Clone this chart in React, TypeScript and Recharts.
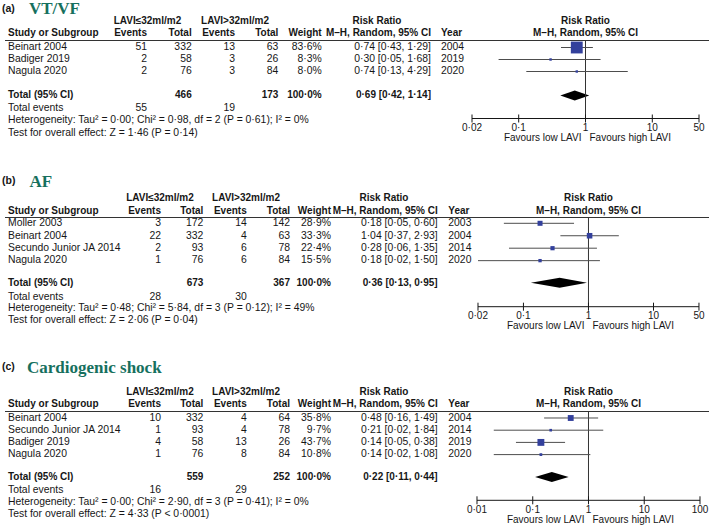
import React from 'react';
import { ComposedChart, Scatter, Line, Area, XAxis, YAxis, ReferenceLine } from 'recharts';

const W = 709;
const H = 526;
const FONT = '"Liberation Sans", Arial, sans-serif';
const SERIF = '"Liberation Serif", "DejaVu Serif", serif';
const INK = '#161616';
const TEAL = '#16705e';
const BOX = '#33409c';

// (a) VT/VF
const vtStudies = ['Beinart 2004', 'Badiger 2019', 'Nagula 2020'];
const vtEventsLow = [51, 2, 2];
const vtTotalLow = [332, 58, 76];
const vtEventsHigh = [13, 3, 3];
const vtTotalHigh = [63, 26, 84];
const vtWeight = [83.6, 8.3, 8.0];
const vtRR = [0.74, 0.3, 0.74];
const vtLow = [0.43, 0.05, 0.13];
const vtHigh = [1.29, 1.68, 4.29];
const vtYear = [2004, 2019, 2020];
const vtPooled = [0.69, 0.42, 1.14];
const vtSums = [466, 173];
const vtTotalEvents = [55, 19];
const vtTicks = [0.02, 0.1, 1, 10, 50];

// (b) AF
const afStudies = ['Moller 2003', 'Beinart 2004', 'Secundo Junior JA 2014', 'Nagula 2020'];
const afEventsLow = [3, 22, 2, 1];
const afTotalLow = [172, 332, 93, 76];
const afEventsHigh = [14, 4, 6, 6];
const afTotalHigh = [142, 63, 78, 84];
const afWeight = [28.9, 33.3, 22.4, 15.5];
const afRR = [0.18, 1.04, 0.28, 0.18];
const afLow = [0.05, 0.37, 0.06, 0.02];
const afHigh = [0.6, 2.93, 1.35, 1.5];
const afYear = [2003, 2004, 2014, 2020];
const afPooled = [0.36, 0.13, 0.95];
const afSums = [673, 367];
const afTotalEvents = [28, 30];
const afTicks = [0.02, 0.1, 1, 10, 50];

// (c) Cardiogenic shock
const csStudies = ['Beinart 2004', 'Secundo Junior JA 2014', 'Badiger 2019', 'Nagula 2020'];
const csEventsLow = [10, 1, 4, 1];
const csTotalLow = [332, 93, 58, 76];
const csEventsHigh = [4, 4, 13, 8];
const csTotalHigh = [64, 78, 26, 84];
const csWeight = [35.8, 9.7, 43.7, 10.8];
const csRR = [0.48, 0.21, 0.14, 0.14];
const csLow = [0.16, 0.02, 0.05, 0.02];
const csHigh = [1.49, 1.84, 0.38, 1.08];
const csYear = [2004, 2014, 2019, 2020];
const csPooled = [0.22, 0.11, 0.44];
const csSums = [559, 252];
const csTotalEvents = [16, 29];
const csTicks = [0.01, 0.1, 1, 10, 100];

const panels = [
  {
    tag: '(a)', title: 'VT/VF',
    studies: vtStudies, evLow: vtEventsLow, totLow: vtTotalLow, evHigh: vtEventsHigh, totHigh: vtTotalHigh,
    weight: vtWeight, rr: vtRR, lo: vtLow, hi: vtHigh, year: vtYear,
    pooled: vtPooled, sums: vtSums, events: vtTotalEvents, ticks: vtTicks,
    het: 'Heterogeneity: Tau² = 0·00; Chi² = 0·98, df = 2 (P = 0·61); I² = 0%',
    test: 'Test for overall effect: Z = 1·46 (P = 0·14)',
  },
  {
    tag: '(b)', title: 'AF',
    studies: afStudies, evLow: afEventsLow, totLow: afTotalLow, evHigh: afEventsHigh, totHigh: afTotalHigh,
    weight: afWeight, rr: afRR, lo: afLow, hi: afHigh, year: afYear,
    pooled: afPooled, sums: afSums, events: afTotalEvents, ticks: afTicks,
    het: 'Heterogeneity: Tau² = 0·48; Chi² = 5·84, df = 3 (P = 0·12); I² = 49%',
    test: 'Test for overall effect: Z = 2·06 (P = 0·04)',
  },
  {
    tag: '(c)', title: 'Cardiogenic shock',
    studies: csStudies, evLow: csEventsLow, totLow: csTotalLow, evHigh: csEventsHigh, totHigh: csTotalHigh,
    weight: csWeight, rr: csRR, lo: csLow, hi: csHigh, year: csYear,
    pooled: csPooled, sums: csSums, events: csTotalEvents, ticks: csTicks,
    het: 'Heterogeneity: Tau² = 0·00; Chi² = 2·90, df = 3 (P = 0·41); I² = 0%',
    test: 'Test for overall effect: Z = 4·33 (P < 0·0001)',
  },
];

// page positions of each panel (px)
const wideCols = { ev1: 161, tot1: 203.3, ev2: 246.7, tot2: 290, w: 331, rr: 437.7, year: 448.3, lavi1: 160, lavi2: 246, rrHead: 384 };
const layouts = [
  {
    titleY: 9.6, h1Y: 21, h2Y: 33, lineY: 39.5, rowY: 47, step: 12, totalY: 95, evY: 108, hetY: 120, testY: 133,
    axisY: 118, favY: 138, x0: 472, x1: 699, titleX: 29,
    cols: { ev1: 147, tot1: 191.7, ev2: 235, tot2: 278.3, w: 321.7, rr: 431, year: 441, lavi1: 147.5, lavi2: 235, rrHead: 377 },
  },
  {
    titleY: 182, h1Y: 198, h2Y: 211, lineY: 217, rowY: 223.3, step: 12.45, totalY: 282.7, evY: 296.7, hetY: 308, testY: 320,
    axisY: 306.7, favY: 326.5, x0: 478, x1: 699, titleX: 29.5, cols: wideCols,
  },
  {
    titleY: 368, h1Y: 392, h2Y: 404, lineY: 410.7, rowY: 417.7, step: 12.2, totalY: 476.7, evY: 490, hetY: 502, testY: 514,
    axisY: 500, favY: 520.5, x0: 477, x1: 700, titleX: 27, cols: wideCols,
  },
];

const fmt = (v: number, d: number) => v.toFixed(d).replace('.', '·');
const ci = (e: number, l: number, h: number) => `${fmt(e, 2)} [${fmt(l, 2)}, ${fmt(h, 2)}]`;

const T = ({ x, y, a = 'left', b = false, size, lh = 12, color = INK, family = FONT, children }: any) => {
  const fs = size ?? (b ? 10 : 10.4);
  const style: React.CSSProperties = {
    position: 'absolute', top: y - lh / 2 - 0.2, height: lh, lineHeight: `${lh}px`, whiteSpace: 'nowrap',
    fontFamily: family, fontSize: fs, fontWeight: b ? 700 : 400, color,
  };
  if (a === 'left') style.left = x;
  else if (a === 'right') style.right = W - x;
  else {
    style.left = x;
    style.transform = 'translateX(-50%)';
  }
  return <div style={style}>{children}</div>;
};

const AxisTick = ({ x, y, payload }: any) => (
  <g>
    <line x1={x} x2={x} y1={y - 4} y2={y + 4} stroke={INK} strokeWidth={1} />
    <text x={x} y={y + 12.5} textAnchor="middle" fontSize={10} fontFamily={FONT} fill={INK}>
      {String(payload.value).replace('.', '·')}
    </text>
  </g>
);

const WeightBox = ({ cx, cy, payload }: any) => {
  const s = 1.4 + 0.125 * payload.w;
  return <rect x={cx - s / 2} y={cy - s / 2} width={s} height={s} fill={BOX} />;
};

const Forest = ({ p, L }: any) => {
  const top = 1 - (L.rowY - L.lineY) / L.step;
  const bottom = top + (L.axisY - L.lineY) / L.step;
  const totalRow = 1 + (L.totalY - L.rowY) / L.step;
  const hh = 5 / L.step;
  const boxes = p.rr.map((v: number, i: number) => ({ x: v, y: i + 1, w: p.weight[i] }));
  const diamond = [
    { x: p.pooled[1], band: [totalRow, totalRow] },
    { x: p.pooled[0], band: [totalRow - hh, totalRow + hh] },
    { x: p.pooled[2], band: [totalRow, totalRow] },
  ];
  const axisH = 20;
  const height = L.axisY - L.lineY + axisH;
  return (
    <div style={{ position: 'absolute', left: 0, top: L.lineY }}>
      <ComposedChart width={W} height={height} margin={{ top: 0, right: W - L.x1, bottom: 0, left: L.x0 }}>
        <XAxis
          type="number" dataKey="x" scale="log" domain={[p.ticks[0], p.ticks[p.ticks.length - 1]]}
          ticks={p.ticks} interval={0} allowDataOverflow height={axisH}
          axisLine={{ stroke: INK, strokeWidth: 1 }} tickLine={false} tickSize={0} tickMargin={0}
          tick={<AxisTick />}
        />
        <YAxis type="number" dataKey="y" domain={[top, bottom]} reversed hide allowDataOverflow />
        <ReferenceLine x={1} stroke="#333" strokeWidth={1} />
        {p.rr.map((_: number, i: number) => (
          <Line
            key={i} data={[{ x: p.lo[i], y: i + 1 }, { x: p.hi[i], y: i + 1 }]} dataKey="y"
            stroke="#4d4d4d" strokeWidth={1} dot={false} activeDot={false} isAnimationActive={false}
          />
        ))}
        <Area data={diamond} dataKey="band" stroke="none" fill="#000" fillOpacity={1} dot={false} activeDot={false} isAnimationActive={false} />
        <Scatter data={boxes} shape={<WeightBox />} isAnimationActive={false} />
      </ComposedChart>
    </div>
  );
};

const PanelText = ({ p, L }: any) => {
  const c = L.cols;
  const rows = p.studies.map((s: string, i: number) => L.rowY + i * L.step);
  const xOne = (L.x0 + L.x1) / 2;
  return (
    <>
      <T x={2} y={L.titleY - 1.5} b size={10.5}>{p.tag}</T>
      <T x={L.titleX} y={L.titleY} b size={17} lh={16} family={SERIF} color={TEAL}>{p.title}</T>

      <T x={c.lavi1} y={L.h1Y} a="center" b>LAVI≤32ml/m2</T>
      <T x={c.lavi2} y={L.h1Y} a="center" b>LAVI&gt;32ml/m2</T>
      <T x={c.rrHead} y={L.h1Y} a="center" b>Risk Ratio</T>
      <T x={xOne} y={L.h1Y} a="center" b>Risk Ratio</T>

      <T x={8} y={L.h2Y} b>Study or Subgroup</T>
      <T x={c.ev1} y={L.h2Y} a="right" b>Events</T>
      <T x={c.tot1} y={L.h2Y} a="right" b>Total</T>
      <T x={c.ev2} y={L.h2Y} a="right" b>Events</T>
      <T x={c.tot2} y={L.h2Y} a="right" b>Total</T>
      <T x={c.w} y={L.h2Y} a="right" b>Weight</T>
      <T x={c.rr} y={L.h2Y} a="right" b>M–H, Random, 95% CI</T>
      <T x={c.year} y={L.h2Y} b>Year</T>
      <T x={xOne} y={L.h2Y} a="center" b>M–H, Random, 95% CI</T>

      <div style={{ position: 'absolute', left: 5, top: Math.round(L.lineY) - 0.5, width: W - 5, height: 1, background: '#333' }} />

      {p.studies.map((s: string, i: number) => (
        <React.Fragment key={s}>
          <T x={8} y={rows[i]}>{s}</T>
          <T x={c.ev1} y={rows[i]} a="right">{p.evLow[i]}</T>
          <T x={c.tot1} y={rows[i]} a="right">{p.totLow[i]}</T>
          <T x={c.ev2} y={rows[i]} a="right">{p.evHigh[i]}</T>
          <T x={c.tot2} y={rows[i]} a="right">{p.totHigh[i]}</T>
          <T x={c.w} y={rows[i]} a="right">{fmt(p.weight[i], 1)}%</T>
          <T x={c.rr} y={rows[i]} a="right">{ci(p.rr[i], p.lo[i], p.hi[i])}</T>
          <T x={c.year} y={rows[i]}>{p.year[i]}</T>
        </React.Fragment>
      ))}

      <T x={8} y={L.totalY} b>Total (95% CI)</T>
      <T x={c.tot1} y={L.totalY} a="right" b>{p.sums[0]}</T>
      <T x={c.tot2} y={L.totalY} a="right" b>{p.sums[1]}</T>
      <T x={c.w} y={L.totalY} a="right" b>100·0%</T>
      <T x={c.rr} y={L.totalY} a="right" b>{ci(p.pooled[0], p.pooled[1], p.pooled[2])}</T>

      <T x={8} y={L.evY}>Total events</T>
      <T x={c.ev1} y={L.evY} a="right">{p.events[0]}</T>
      <T x={c.ev2} y={L.evY} a="right">{p.events[1]}</T>
      <T x={8} y={L.hetY}>{p.het}</T>
      <T x={8} y={L.testY}>{p.test}</T>

      <T x={xOne - 4} y={L.favY} a="right" size={10}>Favours low LAVI</T>
      <T x={xOne + 4} y={L.favY} size={10}>Favours high LAVI</T>
    </>
  );
};

export default function App() {
  return (
    <div style={{ position: 'absolute', left: 0, top: 0, width: W, height: H, background: '#fff', overflow: 'hidden' }}>
      {panels.map((p, i) => (
        <React.Fragment key={p.tag}>
          <PanelText p={p} L={layouts[i]} />
          <Forest p={p} L={layouts[i]} />
        </React.Fragment>
      ))}
    </div>
  );
}
